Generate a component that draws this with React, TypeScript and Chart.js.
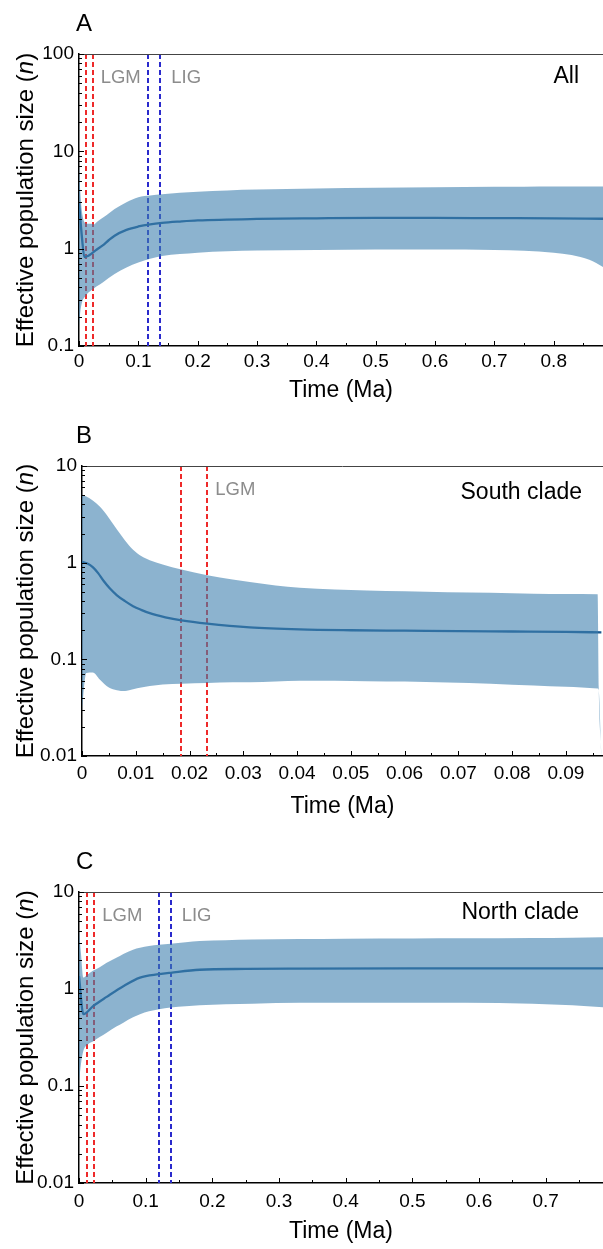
import React, { useEffect, useRef } from 'react';
import { Chart, registerables } from 'chart.js';

Chart.register(...registerables);

const FONT = '"Liberation Sans", Arial, Helvetica, sans-serif';

// ---------------- Panel A (All) ----------------
const bandTimeA = [0, 0.002, 0.005, 0.01, 0.015, 0.02, 0.025, 0.03, 0.04, 0.05, 0.06, 0.08, 0.1, 0.12, 0.14, 0.17, 0.2, 0.25, 0.3, 0.4, 0.5, 0.6, 0.7, 0.75, 0.8, 0.83, 0.86, 0.883];
const upperA = [7.5, 4.0, 2.4, 1.85, 1.8, 1.8, 1.77, 1.88, 2.08, 2.3, 2.55, 3.0, 3.38, 3.52, 3.62, 3.75, 3.85, 3.97, 4.05, 4.15, 4.22, 4.28, 4.32, 4.33, 4.35, 4.35, 4.36, 4.36];
const lowerA = [0.16, 0.22, 0.28, 0.32, 0.35, 0.37, 0.39, 0.41, 0.45, 0.5, 0.55, 0.64, 0.72, 0.79, 0.84, 0.88, 0.91, 0.94, 0.96, 0.97, 0.98, 0.98, 0.97, 0.95, 0.91, 0.86, 0.77, 0.65];
const medianTimeA = [0, 0.005, 0.009, 0.015, 0.02, 0.03, 0.04, 0.05, 0.06, 0.08, 0.1, 0.12, 0.14, 0.17, 0.2, 0.3, 0.4, 0.5, 0.6, 0.7, 0.8, 0.883];
const medianA = [3.0, 1.3, 0.82, 0.84, 0.88, 0.98, 1.08, 1.22, 1.36, 1.56, 1.69, 1.78, 1.84, 1.9, 1.95, 2.02, 2.05, 2.07, 2.07, 2.06, 2.05, 2.03];
const lgmA = [0.012, 0.023];
const ligA = [0.116, 0.137];
const xTicksA = [0, 0.1, 0.2, 0.3, 0.4, 0.5, 0.6, 0.7, 0.8];
const xTickLabelsA = ['0', '0.1', '0.2', '0.3', '0.4', '0.5', '0.6', '0.7', '0.8'];
const xMinorA = [0.05, 0.15, 0.25, 0.35, 0.45, 0.55, 0.65, 0.75, 0.85];
const yTicksA = [0.1, 1, 10, 100];
const yTickLabelsA = ['0.1', '1', '10', '100'];

// ---------------- Panel B (South clade) ----------------
const bandTimeB = [0, 0.0008, 0.002, 0.0033, 0.005, 0.0065, 0.008, 0.0095, 0.011, 0.0126, 0.015, 0.0185, 0.0233, 0.028, 0.0312, 0.036, 0.0405, 0.047, 0.053, 0.06, 0.068, 0.076, 0.084, 0.09, 0.0959, 0.0961, 0.0966];
const upperB = [5.05, 4.85, 4.4, 3.8, 2.9, 2.2, 1.7, 1.36, 1.17, 1.06, 0.96, 0.85, 0.74, 0.67, 0.63, 0.58, 0.55, 0.528, 0.515, 0.505, 0.495, 0.487, 0.478, 0.474, 0.47, 0.052, 0.011];
const lowerB = [0.03, 0.072, 0.073, 0.062, 0.051, 0.048, 0.047, 0.049, 0.051, 0.053, 0.055, 0.056, 0.057, 0.058, 0.058, 0.059, 0.06, 0.06, 0.0595, 0.059, 0.0575, 0.056, 0.0535, 0.052, 0.05, 0.048, 0.01];
const medianTimeB = [0, 0.001, 0.002, 0.003, 0.004, 0.0052, 0.0065, 0.008, 0.0095, 0.011, 0.0126, 0.0155, 0.0185, 0.0233, 0.0312, 0.0405, 0.05, 0.06, 0.07, 0.08, 0.09, 0.0966];
const medianB = [1.02, 0.98, 0.9, 0.78, 0.65, 0.54, 0.46, 0.4, 0.355, 0.325, 0.3, 0.272, 0.253, 0.234, 0.214, 0.204, 0.2, 0.198, 0.196, 0.194, 0.192, 0.19];
const lgmB = [0.0185, 0.0233];
const ligB: number[] = [];
const xTicksB = [0, 0.01, 0.02, 0.03, 0.04, 0.05, 0.06, 0.07, 0.08, 0.09];
const xTickLabelsB = ['0', '0.01', '0.02', '0.03', '0.04', '0.05', '0.06', '0.07', '0.08', '0.09'];
const xMinorB = [0.005, 0.015, 0.025, 0.035, 0.045, 0.055, 0.065, 0.075, 0.085, 0.095];
const yTicksB = [0.01, 0.1, 1, 10];
const yTickLabelsB = ['0.01', '0.1', '1', '10'];

// ---------------- Panel C (North clade) ----------------
const bandTimeC = [0, 0.003, 0.0065, 0.0135, 0.0215, 0.031, 0.0415, 0.056, 0.0665, 0.081, 0.0915, 0.105, 0.12, 0.1375, 0.16, 0.181, 0.22, 0.26, 0.331, 0.4, 0.5, 0.58, 0.68, 0.74, 0.786];
const upperC = [3.96, 2.3, 1.31, 1.42, 1.55, 1.68, 1.86, 2.1, 2.3, 2.54, 2.66, 2.77, 2.86, 2.93, 3.03, 3.12, 3.19, 3.23, 3.27, 3.3, 3.32, 3.33, 3.35, 3.38, 3.42];
const lowerC = [0.11, 0.17, 0.23, 0.27, 0.29, 0.32, 0.355, 0.41, 0.45, 0.51, 0.55, 0.59, 0.62, 0.645, 0.665, 0.68, 0.695, 0.705, 0.72, 0.72, 0.72, 0.72, 0.705, 0.68, 0.65];
const medianTimeC = [0, 0.0065, 0.0215, 0.0415, 0.0665, 0.0915, 0.12, 0.1375, 0.181, 0.25, 0.331, 0.5, 0.6, 0.7, 0.786];
const medianC = [1.36, 0.55, 0.67, 0.83, 1.07, 1.31, 1.42, 1.47, 1.58, 1.61, 1.62, 1.63, 1.63, 1.63, 1.63];
const lgmC = [0.0125, 0.0229];
const ligC = [0.12, 0.1375];
const xTicksC = [0, 0.1, 0.2, 0.3, 0.4, 0.5, 0.6, 0.7];
const xTickLabelsC = ['0', '0.1', '0.2', '0.3', '0.4', '0.5', '0.6', '0.7'];
const xMinorC = [0.05, 0.15, 0.25, 0.35, 0.45, 0.55, 0.65, 0.75];
const yTicksC = [0.01, 0.1, 1, 10];
const yTickLabelsC = ['0.01', '0.1', '1', '10'];

const X_TITLE = 'Time (Ma)';
const Y_TITLE_PARTS = ['Effective population size (', 'n', ')'];

const BAND = 'rgba(63, 128, 175, 0.6)';
const LINE = '#195890';
const RED = '#ee2a2a';
const BLUE = '#2a2acc';
const GRAY = '#8c8c8c';

function minorLog(min: number, max: number) {
  const out: number[] = [];
  for (let d = min; d < max; d *= 10) {
    for (let k = 2; k <= 9; k++) out.push(+(k * d).toPrecision(3));
  }
  return out;
}

type PanelCfg = {
  letter: string; clade: string;
  top: number; height: number;
  plotLeft: number; plotTop: number; plotBottom: number;
  xTickCenter: number; xTitleCenter: number;
  xMax: number; yMin: number; yMax: number;
  xTicks: number[]; xTickLabels: string[]; xMinor: number[];
  yTicks: number[]; yTickLabels: string[];
  bandTime: number[]; upper: number[]; lower: number[];
  medianTime: number[]; median: number[];
  lgm: number[]; lig: number[];
  cladeRight: number; cladeBaseline: number;
};

const panels: PanelCfg[] = [
  {
    letter: 'A', clade: 'All', top: 0, height: 415,
    plotLeft: 79, plotTop: 54, plotBottom: 346, xTickCenter: 361.7, xTitleCenter: 390.5,
    xMax: 0.883, yMin: 0.1, yMax: 100,
    xTicks: xTicksA, xTickLabels: xTickLabelsA, xMinor: xMinorA,
    yTicks: yTicksA, yTickLabels: yTickLabelsA,
    bandTime: bandTimeA, upper: upperA, lower: lowerA,
    medianTime: medianTimeA, median: medianA, lgm: lgmA, lig: ligA,
    cladeRight: 579, cladeBaseline: 83,
  },
  {
    letter: 'B', clade: 'South clade', top: 415, height: 420,
    plotLeft: 82, plotTop: 466, plotBottom: 756, xTickCenter: 773.3, xTitleCenter: 806.7,
    xMax: 0.0969, yMin: 0.01, yMax: 10,
    xTicks: xTicksB, xTickLabels: xTickLabelsB, xMinor: xMinorB,
    yTicks: yTicksB, yTickLabels: yTickLabelsB,
    bandTime: bandTimeB, upper: upperB, lower: lowerB,
    medianTime: medianTimeB, median: medianB, lgm: lgmB, lig: ligB,
    cladeRight: 582, cladeBaseline: 499,
  },
  {
    letter: 'C', clade: 'North clade', top: 835, height: 414,
    plotLeft: 79, plotTop: 892, plotBottom: 1183, xTickCenter: 1201.7, xTitleCenter: 1232,
    xMax: 0.786, yMin: 0.01, yMax: 10,
    xTicks: xTicksC, xTickLabels: xTickLabelsC, xMinor: xMinorC,
    yTicks: yTicksC, yTickLabels: yTickLabelsC,
    bandTime: bandTimeC, upper: upperC, lower: lowerC,
    medianTime: medianTimeC, median: medianC, lgm: lgmC, lig: ligC,
    cladeRight: 579, cladeBaseline: 919,
  },
];

const TICK_SIZE = 19;
const TITLE_SIZE = 23;

function makeOverlay(p: PanelCfg) {
  return {
    id: 'overlay' + p.letter,
    beforeDatasetsDraw(chart: any) {
      const { ctx, chartArea: ca, scales } = chart;
      const x = scales.x;
      ctx.save();
      ctx.lineWidth = 2;
      ctx.setLineDash([5, 3]);
      const draw = (v: number, color: string) => {
        const px = Math.round(x.getPixelForValue(v));
        ctx.strokeStyle = color;
        ctx.beginPath();
        ctx.moveTo(px, ca.top);
        ctx.lineTo(px, ca.bottom);
        ctx.stroke();
      };
      p.lgm.forEach((v) => draw(v, RED));
      p.lig.forEach((v) => draw(v, BLUE));
      ctx.restore();
    },
    afterDraw(chart: any) {
      const { ctx, chartArea: ca, scales } = chart;
      const x = scales.x;
      const y = scales.y;
      const ot = p.top;
      ctx.save();
      // top frame line
      ctx.strokeStyle = '#444';
      ctx.lineWidth = 1;
      ctx.beginPath();
      ctx.moveTo(ca.left, ca.top + 0.5);
      ctx.lineTo(ca.right, ca.top + 0.5);
      ctx.stroke();
      // tick marks
      ctx.strokeStyle = '#000';
      ctx.lineWidth = 1;
      const xt = (v: number, len: number) => {
        const px = Math.round(x.getPixelForValue(v)) + 0.5;
        ctx.beginPath();
        ctx.moveTo(px, ca.bottom);
        ctx.lineTo(px, ca.bottom - len);
        ctx.stroke();
      };
      p.xTicks.forEach((v) => xt(v, 5));
      p.xMinor.filter((v) => v <= p.xMax).forEach((v) => xt(v, 3));
      const yt = (v: number, len: number) => {
        const py = Math.round(y.getPixelForValue(v)) + 0.5;
        ctx.beginPath();
        ctx.moveTo(ca.left, py);
        ctx.lineTo(ca.left + len, py);
        ctx.stroke();
      };
      p.yTicks.forEach((v) => yt(v, 5));
      minorLog(p.yMin, p.yMax).forEach((v) => yt(v, 3));

      // event labels
      ctx.font = `18.5px ${FONT}`;
      ctx.fillStyle = GRAY;
      ctx.textBaseline = 'middle';
      ctx.textAlign = 'left';
      if (p.lgm.length) ctx.fillText('LGM', x.getPixelForValue(p.lgm[1]) + 8, ca.top + 24);
      if (p.lig.length) ctx.fillText('LIG', x.getPixelForValue(p.lig[1]) + 11, ca.top + 24);

      // clade label
      ctx.fillStyle = '#000';
      ctx.font = `23px ${FONT}`;
      ctx.textBaseline = 'alphabetic';
      ctx.textAlign = 'right';
      ctx.fillText(p.clade, p.cladeRight, p.cladeBaseline - ot);

      // panel letter
      ctx.textAlign = 'left';
      ctx.font = `24px ${FONT}`;
      ctx.fillText(p.letter, 76, ca.top - 23);

      // y title with italic n
      const normal = `24px ${FONT}`;
      const italic = `italic 24px ${FONT}`;
      ctx.font = normal;
      const w1 = ctx.measureText(Y_TITLE_PARTS[0]).width;
      const w3 = ctx.measureText(Y_TITLE_PARTS[2]).width;
      ctx.font = italic;
      const w2 = ctx.measureText(Y_TITLE_PARTS[1]).width;
      ctx.translate(33.3, (ca.top + ca.bottom) / 2);
      ctx.rotate(-Math.PI / 2);
      let cx = -(w1 + w2 + w3) / 2;
      ctx.font = normal;
      ctx.fillText(Y_TITLE_PARTS[0], cx, 0);
      cx += w1;
      ctx.font = italic;
      ctx.fillText(Y_TITLE_PARTS[1], cx, 0);
      cx += w2;
      ctx.font = normal;
      ctx.fillText(Y_TITLE_PARTS[2], cx, 0);
      ctx.restore();
    },
  };
}

function PanelChart({ p }: { p: PanelCfg }) {
  const ref = useRef<HTMLCanvasElement>(null);
  useEffect(() => {
    const canvas = ref.current!;
    const xAxisHeight = p.top + p.height - p.plotBottom;
    const tickPad = p.xTickCenter - p.plotBottom - (TICK_SIZE * 1.2) / 2;
    const titlePadBottom = p.top + p.height - p.xTitleCenter - (TITLE_SIZE * 1.2) / 2;
    const chart = new Chart(canvas, {
      type: 'line',
      data: {
        datasets: [
          {
            data: p.bandTime.map((t, i) => ({ x: t, y: p.upper[i] })),
            fill: '+1',
            backgroundColor: BAND,
            borderColor: 'rgba(0,0,0,0)',
            borderWidth: 0,
            pointRadius: 0,
            cubicInterpolationMode: 'monotone',
          },
          {
            data: p.bandTime.map((t, i) => ({ x: t, y: p.lower[i] })),
            fill: false,
            borderColor: 'rgba(0,0,0,0)',
            borderWidth: 0,
            pointRadius: 0,
            cubicInterpolationMode: 'monotone',
          },
          {
            data: p.medianTime.map((t, i) => ({ x: t, y: p.median[i] })),
            fill: false,
            borderColor: LINE,
            borderWidth: 2.3,
            pointRadius: 0,
            cubicInterpolationMode: 'monotone',
          },
        ],
      } as any,
      options: {
        animation: false,
        responsive: false,
        maintainAspectRatio: false,
        events: [],
        layout: { padding: { top: p.plotTop - p.top, right: 0, bottom: 0, left: 0 } },
        plugins: { legend: { display: false }, tooltip: { enabled: false } },
        scales: {
          x: {
            type: 'linear',
            min: 0,
            max: p.xMax,
            grid: { display: false, drawTicks: false },
            border: { display: true, color: '#000', width: 1.5 },
            afterBuildTicks: (s: any) => { s.ticks = p.xTicks.map((v) => ({ value: v })); },
            ticks: {
              autoSkip: false,
              maxRotation: 0,
              padding: tickPad,
              color: '#000',
              font: { family: FONT, size: TICK_SIZE },
              callback: (_v: any, i: number) => p.xTickLabels[i],
            },
            title: {
              display: true,
              text: X_TITLE,
              color: '#000',
              font: { family: FONT, size: TITLE_SIZE },
              padding: { top: 0, bottom: titlePadBottom },
            },
            afterFit: (s: any) => { s.height = xAxisHeight; s.paddingLeft = 0; s.paddingRight = 0; },
          },
          y: {
            type: 'logarithmic',
            min: p.yMin,
            max: p.yMax,
            grid: { display: false, drawTicks: false },
            border: { display: true, color: '#000', width: 1.5 },
            afterBuildTicks: (s: any) => { s.ticks = p.yTicks.map((v) => ({ value: v })); },
            ticks: {
              autoSkip: false,
              padding: 5,
              color: '#000',
              font: { family: FONT, size: TICK_SIZE },
              callback: (_v: any, i: number) => p.yTickLabels[i],
            },
            afterFit: (s: any) => { s.width = p.plotLeft; s.paddingTop = 0; s.paddingBottom = 0; },
          },
        },
      } as any,
      plugins: [makeOverlay(p)],
    });
    return () => chart.destroy();
  }, [p]);
  return (
    <canvas
      ref={ref}
      width={603}
      height={p.height}
      style={{ position: 'absolute', left: 0, top: p.top, width: 603, height: p.height, display: 'block' }}
    />
  );
}

export default function App() {
  return (
    <div style={{ position: 'absolute', left: 0, top: 0, width: 603, height: 1249, background: '#fff', overflow: 'hidden' }}>
      {panels.map((p) => (
        <PanelChart key={p.letter} p={p} />
      ))}
    </div>
  );
}
